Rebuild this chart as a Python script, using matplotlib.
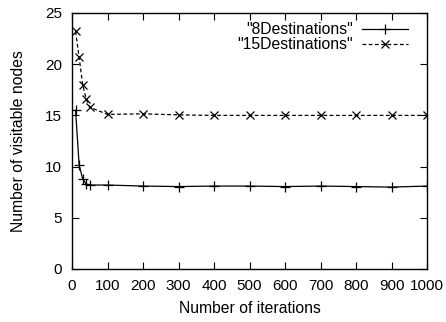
import matplotlib
matplotlib.use("Agg")
from matplotlib import pyplot as plt

plt.rcParams['font.family'] = ['Liberation Sans', 'DejaVu Sans']

iterations = [10, 20, 30, 40, 50, 100, 200, 300, 400, 500, 600, 700, 800, 900, 1000]
dest8 = [15.5, 10.2, 8.8, 8.3, 8.2, 8.2, 8.1, 8.05, 8.1, 8.1, 8.05, 8.1, 8.05, 8.0, 8.1]
dest15 = [23.2, 20.7, 18.0, 16.6, 15.8, 15.1, 15.15, 15.05, 15.0, 15.0, 15.0, 15.0, 15.0, 15.0, 15.0]

fig = plt.figure(figsize=(4.46, 3.22), dpi=100)
ax = fig.add_axes([72 / 446, (322 - 269) / 322, 355 / 446, 256 / 322])

ax.plot(iterations, dest8, color='black', lw=0.9, marker='+', ms=7, mew=0.9, label='"8Destinations"')
ax.plot(iterations, dest15, color='black', lw=0.9, ls=(0, (3, 2)), marker='x', ms=6, mew=0.9, label='"15Destinations"')

ax.set_xlim(0, 1000)
ax.set_ylim(0, 25)
ax.set_xticks(range(0, 1001, 100))
ax.set_yticks(range(0, 26, 5))
ax.tick_params(direction='in', top=True, right=True, length=5, width=0.8, labelsize=11)
ax.tick_params(axis='x', pad=7)
ax.tick_params(axis='y', pad=7)
for s in ax.spines.values():
    s.set_linewidth(1.0)

ax.set_xlabel('Number of iterations', fontsize=11.3, labelpad=6)
ax.set_ylabel('Number of visitable nodes', fontsize=11.3, labelpad=14)

leg = ax.legend(loc='upper right', bbox_to_anchor=(408 / 446, 300 / 322), bbox_transform=fig.transFigure,
                frameon=False, markerfirst=False, numpoints=1, borderpad=0, borderaxespad=0,
                fontsize=11.3, handlelength=2.9, labelspacing=0.0, handletextpad=0.6)
for t in leg.get_texts():
    t.set_ha('right')
leg._legend_box.align = 'right'

fig.savefig('out.png', dpi=100)
